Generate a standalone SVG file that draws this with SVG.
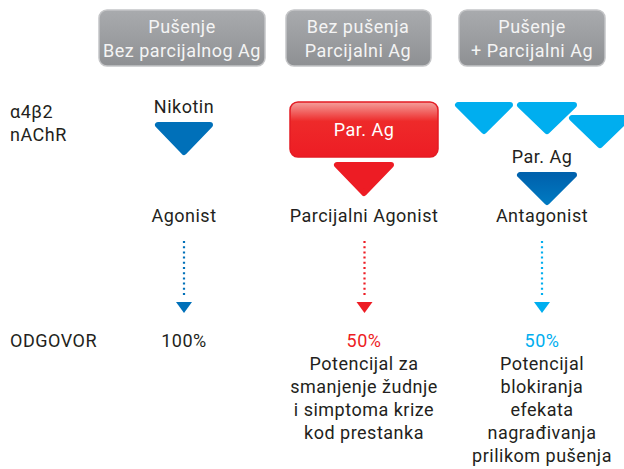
<svg xmlns="http://www.w3.org/2000/svg" width="624" height="469" viewBox="0 0 624 469">
<defs>
<linearGradient id="gHead" x1="0" y1="0" x2="0" y2="1">
<stop offset="0" stop-color="#a9abae"/>
<stop offset="1" stop-color="#8e9093"/>
</linearGradient>
<linearGradient id="gRed" x1="0" y1="0" x2="0" y2="1">
<stop offset="0" stop-color="#f4a09c"/>
<stop offset="0.35" stop-color="#ee2a2a"/>
<stop offset="1" stop-color="#ed1c24"/>
</linearGradient>
<linearGradient id="gDark" x1="0" y1="0" x2="0" y2="1">
<stop offset="0" stop-color="#0062ad"/>
<stop offset="1" stop-color="#0078c0"/>
</linearGradient>
<style>
text{font-family:Roboto,"Liberation Sans",sans-serif;font-size:18px;letter-spacing:0.5px;fill:#231f20;text-anchor:middle}
.hd{fill:url(#gHead);stroke:#c4c5c7;stroke-width:1.5}
.ht{fill:#f4f4f4}
.lt{text-anchor:start}
.tri{stroke-linejoin:round;stroke-width:6}
.blue{fill:#0070b9;stroke:#0070b9}
.lblue{fill:#00aeef;stroke:#00aeef}
.red{fill:#ed1c24;stroke:#ed1c24}
.dark{fill:url(#gDark);stroke:url(#gDark)}
.dot{stroke-width:2.2;stroke-dasharray:2 3.2;fill:none}
</style>
</defs>
<rect width="624" height="469" fill="#ffffff"/>

<g id="header1">
<rect class="hd" x="99" y="10" width="166" height="56" rx="8"/>
<text class="ht" x="182" y="33">Pušenje</text>
<text class="ht" x="182" y="57">Bez parcijalnog Ag</text>
</g>
<g id="header2">
<rect class="hd" x="286" y="10" width="145" height="56" rx="8"/>
<text class="ht" x="358" y="33">Bez pušenja</text>
<text class="ht" x="358" y="57">Parcijalni Ag</text>
</g>
<g id="header3">
<rect class="hd" x="459" y="10" width="146" height="56" rx="8"/>
<text class="ht" x="532" y="33">Pušenje</text>
<text class="ht" x="532" y="57">+ Parcijalni Ag</text>
</g>

<g id="rowlabels">
<text class="lt" x="10" y="118">α4β2</text>
<text class="lt" x="10" y="141">nAChR</text>
<text class="lt" x="10" y="347">ODGOVOR</text>
</g>

<g id="col1">
<text x="184" y="113">Nikotin</text>
<polygon class="tri blue" points="158,125 210,125 184,152"/>
<text x="184" y="222">Agonist</text>
<text x="184" y="347">100%</text>
</g>

<g id="col2">
<rect x="290" y="102" width="148" height="55" rx="8" fill="url(#gRed)" stroke="#e31b23" stroke-width="1.5"/>
<text x="364" y="136" style="fill:#ffffff">Par. Ag</text>
<polygon class="tri red" points="337,165 391,165 364,193"/>
<text x="364" y="222">Parcijalni Agonist</text>
<text x="364" y="347" style="fill:#ed1c24">50%</text>
<text x="364" y="370">Potencijal za</text>
<text x="364" y="393">smanjenje žudnje</text>
<text x="364" y="416">i simptoma krize</text>
<text x="364" y="439">kod prestanka</text>
</g>

<g id="col3">
<polygon class="tri lblue" points="458,105 510,105 484,131"/>
<polygon class="tri lblue" points="520,105 574,105 547,131"/>
<polygon class="tri lblue" points="572,118 628,118 600,145"/>
<text x="542" y="163">Par. Ag</text>
<polygon class="tri dark" points="520,175 574,175 547,202"/>
<text x="542" y="222">Antagonist</text>
<text x="542" y="347" style="fill:#00aeef">50%</text>
<text x="542" y="370">Potencijal</text>
<text x="542" y="393">blokiranja</text>
<text x="542" y="416">efekata</text>
<text x="542" y="439">nagrađivanja</text>
<text x="542" y="462">prilikom pušenja</text>
</g>

<g id="connectors">
<line class="dot" x1="184" y1="241" x2="184" y2="298" stroke="#0070b9"/>
<polygon points="176,302 192,302 184,313" fill="#0070b9"/>
<line class="dot" x1="364.5" y1="241" x2="364.5" y2="298" stroke="#ed1c24"/>
<polygon points="356.5,302 372.5,302 364.5,313" fill="#ed1c24"/>
<line class="dot" x1="542" y1="241" x2="542" y2="298" stroke="#00aeef"/>
<polygon points="534,302 550,302 542,313" fill="#00aeef"/>
</g>
</svg>
